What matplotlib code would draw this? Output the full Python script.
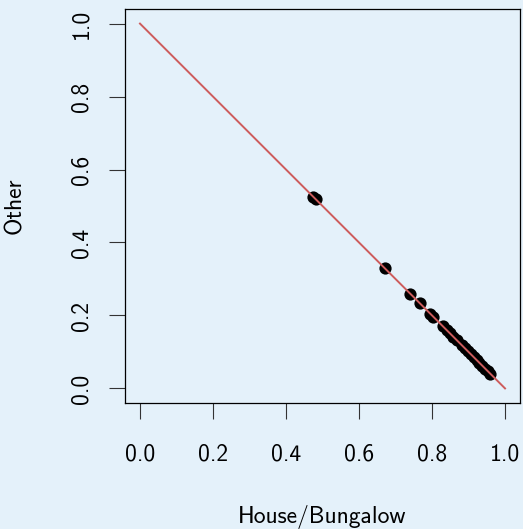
import matplotlib
matplotlib.use("Agg")
import matplotlib.pyplot as plt

# values
house_share = [0.475, 0.482, 0.670, 0.740, 0.767, 0.795, 0.803, 0.830, 0.840,
               0.849, 0.858, 0.868, 0.882, 0.890, 0.898, 0.906, 0.914, 0.922,
               0.930, 0.938, 0.946, 0.953, 0.960]
other_share = [0.525, 0.518, 0.330, 0.260, 0.233, 0.205, 0.197, 0.170, 0.160,
               0.151, 0.142, 0.132, 0.118, 0.110, 0.102, 0.094, 0.086, 0.078,
               0.070, 0.062, 0.054, 0.047, 0.040]
line_x = [0.0, 1.0]
line_y = [1.0, 0.0]
ticks = [0.0, 0.2, 0.4, 0.6, 0.8, 1.0]
tick_labels = ["0.0", "0.2", "0.4", "0.6", "0.8", "1.0"]

BG = "#E4F1FA"
plt.rcParams["font.family"] = ["cmss10", "DejaVu Sans"]
plt.rcParams["axes.unicode_minus"] = False

fig = plt.figure(figsize=(5.23, 5.29), dpi=100, facecolor=BG)
ax = fig.add_axes([125 / 523, 1 - 403 / 529, 395 / 523, 394 / 529])
ax.set_facecolor(BG)

ax.plot(house_share, other_share, "o", color="black", ms=8.8, mew=0, zorder=2)
ax.plot(line_x, line_y, color="#CD5C5C", lw=1.4, zorder=3)

ax.set_xlim(-0.041, 1.041)
ax.set_ylim(-0.04, 1.04)
ax.set_xticks(ticks)
ax.set_xticklabels(tick_labels)
ax.set_yticks(ticks)
ax.set_yticklabels(tick_labels, rotation=90, va="center")
ax.tick_params(direction="out", length=11.5, width=0.8, color="#333333",
               labelsize=17)
ax.tick_params(axis="x", pad=18)
ax.tick_params(axis="y", pad=12)

for s in ax.spines.values():
    s.set_linewidth(0.9)
    s.set_color("black")

ax.set_xlabel("House/Bungalow", fontsize=17)
ax.set_ylabel("Other", fontsize=17)
ax.xaxis.label.set_va("center")
ax.yaxis.label.set_va("center")
ax.xaxis.set_label_coords(0.5, (403 - 517) / 394)
ax.yaxis.set_label_coords((15 - 125) / 395, 0.5)

fig.savefig("out.png", dpi=100, facecolor=BG)
